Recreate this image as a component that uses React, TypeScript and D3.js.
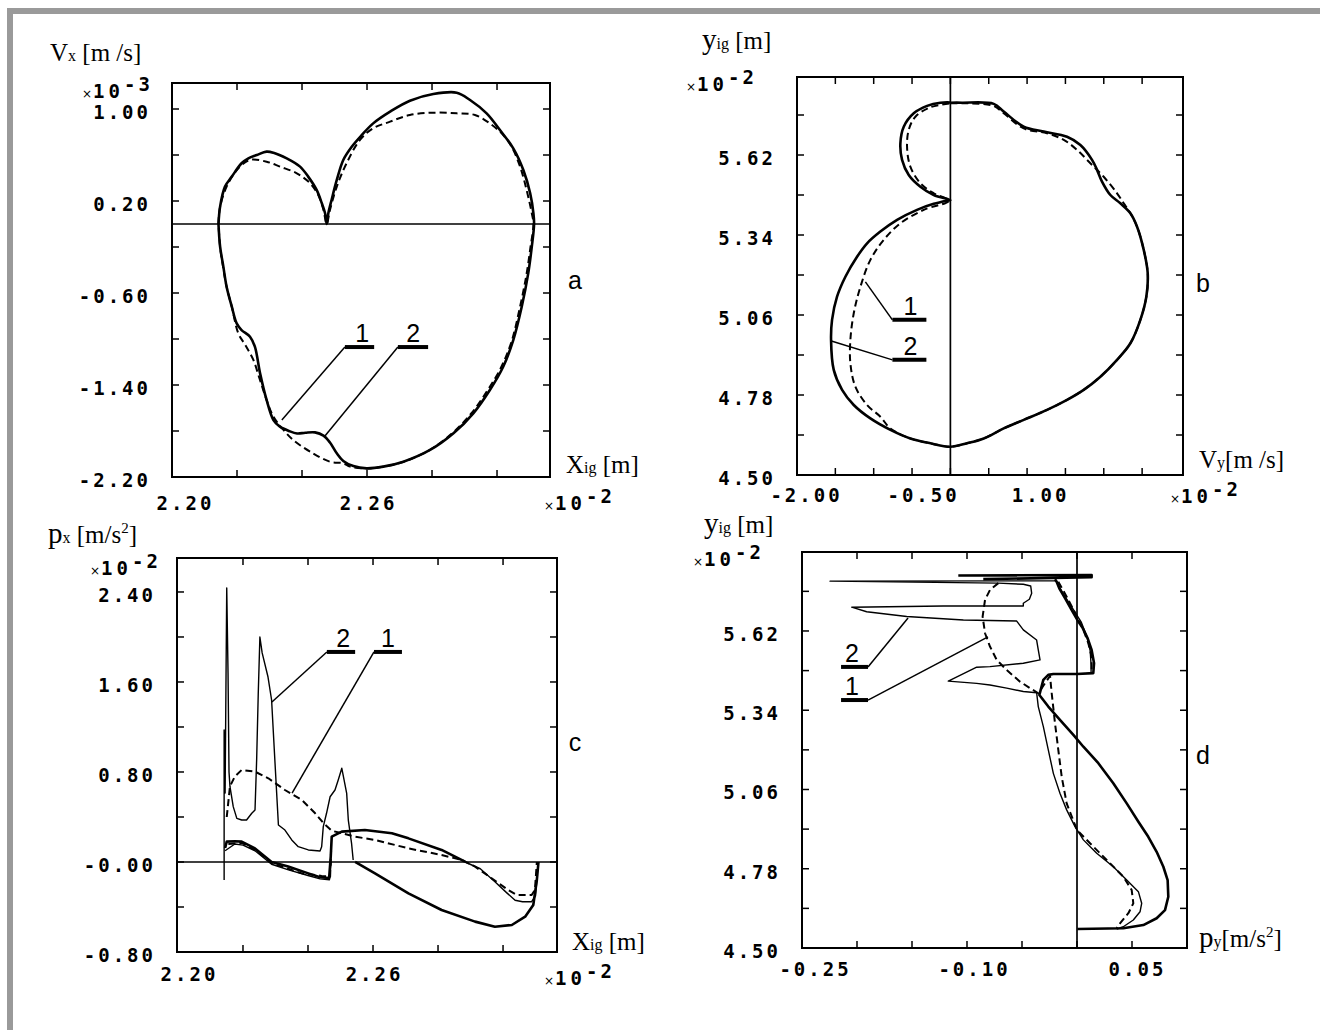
import React from "react";
import * as d3 from "d3";

type Pt = [number, number];

// ===================== Panel a : Vx [1e-3 m/s] vs Xig [1e-2 m] =====================
const aSolid: Pt[] = [
  [2.2143, 0.0], [2.2148, 0.151], [2.2163, 0.325], [2.2184, 0.412], [2.2214, 0.528], [2.2235, 0.571],
  [2.2261, 0.6], [2.2291, 0.629], [2.2312, 0.62], [2.2353, 0.571], [2.2394, 0.499], [2.2419, 0.412],
  [2.2445, 0.296], [2.2461, 0.18], [2.2471, 0.093], [2.2476, 0.0],
  [2.2481, 0.093], [2.2491, 0.209], [2.2507, 0.383], [2.2527, 0.557], [2.2553, 0.672], [2.2584, 0.774],
  [2.2619, 0.875], [2.2671, 0.977], [2.2732, 1.072], [2.2804, 1.13], [2.2876, 1.142], [2.2917, 1.078],
  [2.2968, 0.962], [2.3009, 0.817], [2.305, 0.658], [2.3081, 0.47], [2.3102, 0.267], [2.3112, 0.093], [2.3114, 0.0],
  [2.3107, -0.197], [2.3096, -0.429], [2.3076, -0.719], [2.305, -1.009], [2.3019, -1.241], [2.2978, -1.443],
  [2.2927, -1.646], [2.2866, -1.82], [2.2794, -1.965], [2.2712, -2.067], [2.265, -2.11], [2.2599, -2.125],
  [2.2558, -2.105], [2.2527, -2.06], [2.2507, -1.994], [2.2486, -1.9], [2.2466, -1.84], [2.244, -1.812],
  [2.241, -1.815], [2.2385, -1.822], [2.236, -1.8], [2.2332, -1.762], [2.2312, -1.704], [2.2291, -1.53],
  [2.2271, -1.299], [2.2255, -1.067], [2.224, -0.98], [2.2214, -0.922], [2.2199, -0.864], [2.2184, -0.719],
  [2.2168, -0.545], [2.2158, -0.371], [2.2148, -0.197], [2.2143, 0.0],
];
const aDashed: Pt[] = [
  [2.2143, 0.0], [2.2148, 0.151], [2.2173, 0.354], [2.2209, 0.499], [2.224, 0.557], [2.2291, 0.542],
  [2.2332, 0.499], [2.2384, 0.441], [2.2425, 0.354], [2.245, 0.252], [2.2466, 0.122], [2.2476, 0.0],
  [2.2486, 0.122], [2.2507, 0.325], [2.2537, 0.528], [2.2578, 0.73], [2.2619, 0.832], [2.2671, 0.89],
  [2.2732, 0.948], [2.2804, 0.968], [2.2876, 0.962], [2.2932, 0.948], [2.2978, 0.875], [2.3019, 0.774],
  [2.3045, 0.672], [2.3071, 0.499], [2.3091, 0.296], [2.3107, 0.093], [2.3112, 0.0],
  [2.3103, -0.2], [2.309, -0.45], [2.307, -0.73], [2.3045, -1.02], [2.3012, -1.25], [2.297, -1.45],
  [2.292, -1.65], [2.286, -1.825], [2.279, -1.97], [2.271, -2.07], [2.265, -2.11], [2.2599, -2.125],
  [2.2548, -2.11], [2.2527, -2.081], [2.2486, -2.067], [2.2425, -1.98], [2.2373, -1.878], [2.2343, -1.791],
  [2.2312, -1.675], [2.2291, -1.53], [2.227, -1.35], [2.225, -1.18], [2.2225, -1.05], [2.2204, -0.951],
  [2.2184, -0.719], [2.2168, -0.545], [2.2157, -0.371], [2.2148, -0.197], [2.2143, 0.0],
];
const aXTicks = [2.22, 2.24, 2.26, 2.28, 2.3];
const aYTicks = [-1.8, -1.4, -1.0, -0.6, -0.2, 0.2, 0.6, 1.0];
const aXLabelVals = [2.2, 2.26];
const aXLabelText = ["2.20", "2.26"];
const aYLabelVals = [1.0, 0.2, -0.6, -1.4, -2.2];
const aYLabelText = ["1.00", "0.20", "-0.60", "-1.40", "-2.20"];

// ===================== Panel b : yig [1e-2 m] vs Vy [1e-2 m/s] =====================
const bSolid: Pt[] = [
  [0, 5.803], [0.152, 5.803], [0.565, 5.799], [0.695, 5.772], [0.956, 5.719], [1.217, 5.702], [1.521, 5.684],
  [1.695, 5.655], [1.847, 5.603], [1.912, 5.568], [1.977, 5.527], [2.086, 5.48], [2.216, 5.451], [2.347, 5.416],
  [2.434, 5.369], [2.521, 5.288], [2.573, 5.206], [2.555, 5.124], [2.477, 5.043], [2.347, 4.961], [2.173, 4.903],
  [1.956, 4.844], [1.738, 4.798], [1.521, 4.763], [1.26, 4.728], [0.956, 4.693], [0.695, 4.663], [0.435, 4.628],
  [0.217, 4.611], [0, 4.599], [-0.261, 4.611], [-0.522, 4.628], [-0.782, 4.658], [-1.043, 4.698], [-1.26, 4.745],
  [-1.412, 4.798], [-1.521, 4.868], [-1.556, 4.973], [-1.543, 5.043], [-1.478, 5.124], [-1.369, 5.194],
  [-1.217, 5.264], [-1.086, 5.311], [-0.913, 5.352], [-0.695, 5.393], [-0.435, 5.428], [-0.217, 5.449],
  [-0.043, 5.46], [0, 5.462], [-0.217, 5.48], [-0.391, 5.509], [-0.543, 5.55], [-0.63, 5.603], [-0.652, 5.661],
  [-0.608, 5.719], [-0.478, 5.766], [-0.304, 5.792], [-0.13, 5.803], [0, 5.804],
];
const bDashed: Pt[] = [
  [0, 5.801], [0.217, 5.801], [0.565, 5.792], [0.695, 5.766], [0.956, 5.713], [1.26, 5.696], [1.478, 5.673],
  [1.651, 5.638], [1.825, 5.591], [1.999, 5.544], [2.173, 5.486], [2.26, 5.451], [2.347, 5.416], [2.434, 5.369],
  [2.521, 5.288], [2.573, 5.206], [2.555, 5.124], [2.477, 5.043], [2.347, 4.961], [2.173, 4.903], [1.956, 4.844],
  [1.738, 4.798], [1.521, 4.763], [1.26, 4.728], [0.956, 4.693], [0.695, 4.663], [0.435, 4.628], [0.217, 4.611],
  [0, 4.599], [-0.261, 4.611], [-0.522, 4.628], [-0.782, 4.663], [-0.913, 4.704], [-1.086, 4.745],
  [-1.239, 4.809], [-1.304, 4.891], [-1.304, 4.973], [-1.26, 5.066], [-1.173, 5.159], [-1.043, 5.253],
  [-0.869, 5.323], [-0.652, 5.381], [-0.348, 5.428], [-0.022, 5.46], [-0.217, 5.486], [-0.391, 5.521],
  [-0.522, 5.579], [-0.565, 5.649], [-0.543, 5.708], [-0.456, 5.754], [-0.261, 5.787], [0, 5.801],
];
const bXTicks = [-1.5, -1.0, -0.5, 0, 0.5, 1.0, 1.5, 2.0, 2.5];
const bYTicks = [4.64, 4.78, 4.92, 5.06, 5.2, 5.34, 5.48, 5.62, 5.76];
const bXLabelVals = [-2.0, -0.5, 1.0];
const bXLabelText = ["-2.00", "-0.50", "1.00"];
const bYLabelVals = [5.62, 5.34, 5.06, 4.78, 4.5];
const bYLabelText = ["5.62", "5.34", "5.06", "4.78", "4.50"];

// ===================== Panel c : px [1e-2 m/s2] vs Xig [1e-2 m] =====================
const cThin: Pt[] = [
  [2.2142, -0.16], [2.2142, 1.173], [2.2145, 0.613], [2.215, 2.436], [2.2154, 1.68], [2.2157, 0.8], [2.216, 0.669],
  [2.217, 0.492], [2.2181, 0.388], [2.2196, 0.373], [2.2211, 0.373], [2.2227, 0.433], [2.2237, 0.462],
  [2.2242, 0.907], [2.2247, 1.502], [2.2252, 2.0], [2.2259, 1.858], [2.2277, 1.644], [2.2288, 1.44],
  [2.2298, 0.907], [2.2309, 0.329], [2.2329, 0.284], [2.235, 0.196], [2.237, 0.136], [2.2401, 0.107],
  [2.2437, 0.098], [2.2442, 0.136], [2.2447, 0.314], [2.2457, 0.433], [2.2468, 0.58], [2.2483, 0.64],
  [2.2493, 0.729], [2.2504, 0.833], [2.2509, 0.758], [2.2519, 0.61], [2.2524, 0.373], [2.2534, 0.166], [2.2539, 0.018],
];
const cThinRight: Pt[] = [
  [2.2883, 0.0], [2.293, -0.06], [2.2975, -0.175], [2.301, -0.27], [2.3037, -0.34], [2.306, -0.353],
  [2.3088, -0.353], [2.31, -0.3], [2.3104, -0.16], [2.3108, 0.0],
];
const cThinLower: Pt[] = [
  [2.2145, 0.1], [2.2175, 0.16], [2.22, 0.15], [2.2237, 0.1], [2.2288, -0.02], [2.234, -0.07], [2.24, -0.12],
  [2.2437, -0.15], [2.2466, -0.158], [2.2471, 0.0],
];
const cDashed: Pt[] = [
  [2.215, 0.4], [2.216, 0.673], [2.2175, 0.76], [2.2196, 0.818], [2.2237, 0.803], [2.2278, 0.744], [2.2329, 0.64],
  [2.2381, 0.551], [2.2422, 0.433], [2.2448, 0.344], [2.2473, 0.278], [2.2504, 0.255], [2.2545, 0.225],
  [2.2606, 0.196], [2.2709, 0.121], [2.2811, 0.062], [2.2873, 0.018], [2.2914, -0.041], [2.2965, -0.145],
  [2.3016, -0.249], [2.3042, -0.293], [2.3088, -0.293], [2.3098, -0.249], [2.3104, 0.0],
];
const cDashedLower: Pt[] = [
  [2.2155, 0.16], [2.2196, 0.17], [2.2237, 0.11], [2.2288, -0.01], [2.2339, -0.06], [2.2381, -0.101],
  [2.2442, -0.124], [2.2468, -0.13], [2.2471, 0.1],
];
const cThickLoop: Pt[] = [
  [2.2145, 0.124], [2.215, 0.181], [2.2175, 0.185], [2.2196, 0.181], [2.2237, 0.121], [2.2288, 0.0],
  [2.2339, -0.041], [2.2401, -0.101], [2.2437, -0.135], [2.2465, -0.142], [2.247, 0.05], [2.2473, 0.225],
  [2.2504, 0.27], [2.2575, 0.284], [2.2658, 0.255], [2.2709, 0.21], [2.2811, 0.107], [2.2883, 0.003],
];
const cThickLobe: Pt[] = [
  [2.2545, 0.0], [2.2606, -0.101], [2.2709, -0.279], [2.2811, -0.427], [2.2914, -0.53], [2.2975, -0.575],
  [2.3027, -0.56], [2.3068, -0.486], [2.3093, -0.382], [2.3104, -0.16], [2.3109, 0.0],
];
const cXTicks = [2.22, 2.24, 2.26, 2.28, 2.3];
const cYTicks = [-0.4, 0, 0.4, 0.8, 1.2, 1.6, 2.0, 2.4];
const cXLabelVals = [2.2, 2.26];
const cXLabelText = ["2.20", "2.26"];
const cYLabelVals = [2.4, 1.6, 0.8, 0, -0.8];
const cYLabelText = ["2.40", "1.60", "0.80", "-0.00", "-0.80"];

// ===================== Panel d : yig [1e-2 m] vs py [m/s2] =====================
const dThick: Pt[] = [
  [0.0003, 4.567], [0.0421, 4.57], [0.0603, 4.581], [0.0724, 4.605], [0.08, 4.634], [0.083, 4.681],
  [0.0824, 4.74], [0.0785, 4.787], [0.0724, 4.84], [0.0648, 4.893], [0.0558, 4.946], [0.0452, 5.011],
  [0.033, 5.082], [0.0194, 5.153], [0.0058, 5.211], [-0.0033, 5.253], [-0.0155, 5.306], [-0.0261, 5.353],
  [-0.0342, 5.394], [-0.0306, 5.447], [-0.0261, 5.465], [-0.0215, 5.468], [0, 5.468], [0.0148, 5.471],
  [0.0155, 5.506], [0.0133, 5.553], [0.0097, 5.594], [0.0052, 5.63], [0.0003, 5.659], [-0.0048, 5.694],
  [-0.0109, 5.736], [-0.0161, 5.771], [-0.0185, 5.794], [-0.02, 5.803],
];
const dThickTop: Pt[] = [[-0.1079, 5.816], [0.0133, 5.818], [0.0133, 5.81], [-0.0852, 5.803]];
const dThin: Pt[] = [
  [-0.0185, 5.797], [-0.2245, 5.796], [-0.0715, 5.789], [-0.0488, 5.785], [-0.0421, 5.779], [-0.0412, 5.753],
  [-0.0433, 5.732], [-0.0488, 5.718], [-0.0488, 5.708], [-0.1215, 5.708], [-0.2048, 5.704], [-0.1912, 5.688],
  [-0.1548, 5.671], [-0.1033, 5.659], [-0.0548, 5.655], [-0.0488, 5.624], [-0.0367, 5.588], [-0.0352, 5.553],
  [-0.0336, 5.518], [-0.0488, 5.506], [-0.0791, 5.494], [-0.0912, 5.492], [-0.117, 5.443], [-0.0912, 5.435],
  [-0.0791, 5.429], [-0.0639, 5.418], [-0.0488, 5.406], [-0.0367, 5.402], [-0.0352, 5.353], [-0.0306, 5.282],
  [-0.0261, 5.2], [-0.0215, 5.117], [-0.0155, 5.047], [-0.0094, 4.988], [-0.0018, 4.929], [0.0058, 4.882],
  [0.0179, 4.835], [0.033, 4.787], [0.0452, 4.74], [0.0558, 4.699], [0.0588, 4.658], [0.0573, 4.628],
  [0.0512, 4.599], [0.0421, 4.575], [0.0361, 4.567],
];
const dThinRight: Pt[] = [
  [-0.0195, 5.8], [-0.013, 5.755], [-0.004, 5.7], [0.004, 5.65], [0.009, 5.6], [0.012, 5.55], [0.0128, 5.5], [0.0128, 5.47],
];
const dDashed: Pt[] = [
  [-0.0715, 5.789], [-0.0791, 5.765], [-0.0836, 5.73], [-0.0858, 5.671], [-0.0836, 5.612], [-0.0791, 5.565],
  [-0.073, 5.518], [-0.0639, 5.482], [-0.0518, 5.441], [-0.0427, 5.418], [-0.0352, 5.4], [-0.03, 5.43],
  [-0.0245, 5.461], [-0.023, 5.4], [-0.02, 5.294], [-0.017, 5.2], [-0.0139, 5.105], [-0.0094, 5.011],
  [0, 4.917], [0.0118, 4.87], [0.027, 4.811], [0.0421, 4.752], [0.0497, 4.705], [0.0512, 4.658],
  [0.0467, 4.623], [0.0391, 4.587], [0.0361, 4.57],
];
const dDashedRight: Pt[] = [
  [-0.017, 5.794], [-0.0094, 5.741], [0, 5.671], [0.0058, 5.624], [0.0103, 5.577], [0.0133, 5.529], [0.0133, 5.476],
];
const dXTicks = [-0.2, -0.15, -0.1, -0.05, 0, 0.05];
const dYTicks = [4.64, 4.78, 4.92, 5.06, 5.2, 5.34, 5.48, 5.62, 5.76];
const dXLabelVals = [-0.25, -0.1, 0.05];
const dXLabelText = ["-0.25", "-0.10", "0.05"];
const dYLabelVals = [5.62, 5.34, 5.06, 4.78, 4.5];
const dYLabelText = ["5.62", "5.34", "5.06", "4.78", "4.50"];

// ===================== rendering =====================
const MONO = "'DejaVu Sans Mono', monospace";
const SERIF = "'Liberation Serif', 'Times New Roman', serif";
const SANS = "'Liberation Sans', Arial, sans-serif";
const TICK_FS = 19;
const TICK_LS = 3;

type Kind = "thick" | "thin" | "dashed";
interface Series { data: Pt[]; kind: Kind; }
interface Callout { text: string; textX: number; barX: [number, number]; barY: number; side: "left" | "right"; to: Pt; }
interface PanelSpec {
  id: string;
  x0: number; x1: number; y0: number; y1: number;
  xDomain: [number, number]; yDomain: [number, number];
  xTicks: number[]; yTicks: number[];
  xLabelVals: number[]; xLabelText: string[]; xLabelDx: number[]; xLabelY: number;
  yLabelVals: number[]; yLabelText: string[];
  zero: "h" | "v";
  smooth: boolean;
  series: Series[];
  callouts: Callout[];
}

const STYLE: Record<Kind, { w: number; dash?: string }> = {
  thick: { w: 2.6 },
  thin: { w: 1.4 },
  dashed: { w: 2.0, dash: "7 4" },
};

function Panel({ p }: { p: PanelSpec }) {
  const x = d3.scaleLinear().domain(p.xDomain).range([p.x0, p.x1]);
  const y = d3.scaleLinear().domain(p.yDomain).range([p.y1, p.y0]);
  const line = d3
    .line<Pt>()
    .x((d) => x(d[0]))
    .y((d) => y(d[1]))
    .curve(p.smooth ? d3.curveCatmullRom.alpha(0.5) : d3.curveLinear);
  const T = 7;
  const order: Kind[] = ["thin", "dashed", "thick"];
  return (
    <g>
      <defs>
        <clipPath id={"clip-" + p.id}>
          <rect x={p.x0} y={p.y0} width={p.x1 - p.x0} height={p.y1 - p.y0} />
        </clipPath>
      </defs>
      <g clipPath={`url(#clip-${p.id})`}>
        {p.zero === "h" ? (
          <line x1={p.x0} x2={p.x1} y1={y(0)} y2={y(0)} stroke="#000" strokeWidth={1.7} />
        ) : (
          <line x1={x(0)} x2={x(0)} y1={p.y0} y2={p.y1} stroke="#000" strokeWidth={1.7} />
        )}
        {order.map((k) =>
          p.series
            .filter((s) => s.kind === k)
            .map((s, i) => (
              <path
                key={k + i}
                d={line(s.data) || ""}
                fill="none"
                stroke="#000"
                strokeWidth={STYLE[k].w}
                strokeDasharray={STYLE[k].dash}
                strokeLinejoin="round"
                strokeLinecap="butt"
              />
            ))
        )}
      </g>
      <rect x={p.x0} y={p.y0} width={p.x1 - p.x0} height={p.y1 - p.y0} fill="none" stroke="#000" strokeWidth={2} />
      {p.xTicks.map((t) => (
        <g key={"xt" + t}>
          <line x1={x(t)} x2={x(t)} y1={p.y1} y2={p.y1 - T} stroke="#000" strokeWidth={1.5} />
          <line x1={x(t)} x2={x(t)} y1={p.y0} y2={p.y0 + T} stroke="#000" strokeWidth={1.5} />
        </g>
      ))}
      {p.yTicks.map((t) => (
        <g key={"yt" + t}>
          <line x1={p.x0} x2={p.x0 + T} y1={y(t)} y2={y(t)} stroke="#000" strokeWidth={1.5} />
          <line x1={p.x1} x2={p.x1 - T} y1={y(t)} y2={y(t)} stroke="#000" strokeWidth={1.5} />
        </g>
      ))}
      {p.yLabelVals.map((v, i) => (
        <text key={"yl" + i} x={p.x0 - 21} y={y(v) + 10} textAnchor="end" fontFamily={MONO} fontWeight="bold"
          fontSize={TICK_FS} letterSpacing={TICK_LS} fill="#000">
          {p.yLabelText[i]}
        </text>
      ))}
      {p.xLabelVals.map((v, i) => (
        <text key={"xl" + i} x={x(v) + p.xLabelDx[i] + TICK_LS / 2} y={p.xLabelY} textAnchor="middle" fontFamily={MONO}
          fontWeight="bold" fontSize={TICK_FS} letterSpacing={TICK_LS} fill="#000">
          {p.xLabelText[i]}
        </text>
      ))}
      {p.callouts.map((c, i) => {
        const bx0 = x(c.barX[0]);
        const bx1 = x(c.barX[1]);
        const by = y(c.barY);
        const fx = c.side === "left" ? bx0 : bx1;
        return (
          <g key={"co" + i}>
            <line x1={fx} y1={by} x2={x(c.to[0])} y2={y(c.to[1])} stroke="#000" strokeWidth={1.5} />
            <line x1={bx0} x2={bx1} y1={by} y2={by} stroke="#000" strokeWidth={4} />
            <text x={x(c.textX)} y={by - 5} textAnchor="middle" fontFamily={SANS} fontSize={25} fill="#000">
              {c.text}
            </text>
          </g>
        );
      })}
    </g>
  );
}

function Mult({ x, y, exp }: { x: number; y: number; exp: string }) {
  return (
    <text x={x} y={y} fontFamily={MONO} fontWeight="bold" fontSize={19} fill="#000">
      <tspan fontFamily="'DejaVu Sans', sans-serif" fontWeight="normal" fontSize={12}>×</tspan>
      <tspan dx={1} letterSpacing={4}>10</tspan>
      <tspan dx={0} dy={-7} letterSpacing={3}>{"-" + exp}</tspan>
    </text>
  );
}

interface Part { t: string; s: number; dy?: number; }
function Title({ x, y, parts }: { x: number; y: number; parts: Part[] }) {
  return (
    <text x={x} y={y} fontFamily={SERIF} fill="#000">
      {parts.map((q, i) => (
        <tspan key={i} fontSize={q.s} dy={q.dy || 0}>{q.t}</tspan>
      ))}
    </text>
  );
}

const panelA: PanelSpec = {
  id: "a", x0: 172, x1: 550, y0: 83, y1: 477,
  xDomain: [2.2, 2.3163], yDomain: [-2.2, 1.2261],
  xTicks: aXTicks, yTicks: aYTicks,
  xLabelVals: aXLabelVals, xLabelText: aXLabelText, xLabelDx: [12, 0], xLabelY: 510,
  yLabelVals: aYLabelVals, yLabelText: aYLabelText,
  zero: "h", smooth: true,
  series: [{ data: aDashed, kind: "dashed" }, { data: aSolid, kind: "thick" }],
  callouts: [
    { text: "1", textX: 2.2585, barX: [2.2532, 2.2622], barY: -1.07, side: "left", to: [2.2338, -1.704] },
    { text: "2", textX: 2.2742, barX: [2.2695, 2.2788], barY: -1.07, side: "left", to: [2.2468, -1.852] },
  ],
};

const panelB: PanelSpec = {
  id: "b", x0: 797, x1: 1183, y0: 77, y1: 475,
  xDomain: [-2.0, 3.033], yDomain: [4.5, 5.893],
  xTicks: bXTicks, yTicks: bYTicks,
  xLabelVals: bXLabelVals, xLabelText: bXLabelText, xLabelDx: [8, 10, 12], xLabelY: 502,
  yLabelVals: bYLabelVals, yLabelText: bYLabelText,
  zero: "v", smooth: true,
  series: [{ data: bDashed, kind: "dashed" }, { data: bSolid, kind: "thick" }],
  callouts: [
    { text: "1", textX: -0.522, barX: [-0.756, -0.313], barY: 5.043, side: "left", to: [-1.108, 5.176] },
    { text: "2", textX: -0.522, barX: [-0.756, -0.313], barY: 4.903, side: "left", to: [-1.552, 4.969] },
  ],
};

const panelC: PanelSpec = {
  id: "c", x0: 177, x1: 557, y0: 558, y1: 952,
  xDomain: [2.1997, 2.3166], yDomain: [-0.8, 2.702],
  xTicks: cXTicks, yTicks: cYTicks,
  xLabelVals: cXLabelVals, xLabelText: cXLabelText, xLabelDx: [10, 0], xLabelY: 981,
  yLabelVals: cYLabelVals, yLabelText: cYLabelText,
  zero: "h", smooth: false,
  series: [
    { data: cThin, kind: "thin" },
    { data: cThinRight, kind: "thin" },
    { data: cThinLower, kind: "thin" },
    { data: cDashed, kind: "dashed" },
    { data: cDashedLower, kind: "dashed" },
    { data: cThickLoop, kind: "thick" },
    { data: cThickLobe, kind: "thick" },
  ],
  callouts: [
    { text: "2", textX: 2.2508, barX: [2.2458, 2.2545], barY: 1.867, side: "left", to: [2.2289, 1.422] },
    { text: "1", textX: 2.2646, barX: [2.2603, 2.2689], barY: 1.867, side: "left", to: [2.2351, 0.613] },
  ],
};

const panelD: PanelSpec = {
  id: "d", x0: 802, x1: 1187, y0: 552, y1: 948,
  xDomain: [-0.25, 0.1], yDomain: [4.5, 5.899],
  xTicks: dXTicks, yTicks: dYTicks,
  xLabelVals: dXLabelVals, xLabelText: dXLabelText, xLabelDx: [12, 6, 4], xLabelY: 976,
  yLabelVals: dYLabelVals, yLabelText: dYLabelText,
  zero: "v", smooth: false,
  series: [
    { data: dThin, kind: "thin" },
    { data: dThinRight, kind: "thin" },
    { data: dDashed, kind: "dashed" },
    { data: dDashedRight, kind: "dashed" },
    { data: dThick, kind: "thick" },
    { data: dThickTop, kind: "thick" },
  ],
  callouts: [
    { text: "2", textX: -0.2045, barX: [-0.2145, -0.19], barY: 5.493, side: "right", to: [-0.1536, 5.666] },
    { text: "1", textX: -0.2045, barX: [-0.2145, -0.19], barY: 5.376, side: "right", to: [-0.0809, 5.599] },
  ],
};

export default function App() {
  return (
    <svg width={1320} height={1030} viewBox="0 0 1320 1030"
      style={{ position: "absolute", left: 0, top: 0, background: "#fff", display: "block" }}>
      <rect x={0} y={0} width={1320} height={1030} fill="#fff" />
      {/* outer grey frame */}
      <rect x={7} y={8} width={1313} height={6} fill="#9a9a9a" />
      <rect x={7} y={8} width={6} height={1022} fill="#9a9a9a" />

      <Panel p={panelA} />
      <Panel p={panelB} />
      <Panel p={panelC} />
      <Panel p={panelD} />

      {/* multipliers */}
      <Mult x={82} y={98} exp="3" />
      <Mult x={544} y={510} exp="2" />
      <Mult x={686} y={91} exp="2" />
      <Mult x={1170} y={503} exp="2" />
      <Mult x={90} y={575} exp="2" />
      <Mult x={544} y={985} exp="2" />
      <Mult x={693} y={566} exp="2" />

      {/* axis titles */}
      <Title x={50} y={61} parts={[{ t: "V", s: 25 }, { t: "x", s: 16 }, { t: " [m /s]", s: 25 }]} />
      <Title x={566} y={473} parts={[{ t: "X", s: 25 }, { t: "ig", s: 16 }, { t: " [m]", s: 25 }]} />
      <Title x={702} y={49} parts={[{ t: "y", s: 29 }, { t: "ig", s: 16 }, { t: " [m]", s: 25 }]} />
      <Title x={1199} y={468} parts={[{ t: "V", s: 25 }, { t: "y", s: 16 }, { t: "[m /s]", s: 25 }]} />
      <Title x={48} y={543} parts={[{ t: "p", s: 29 }, { t: "x", s: 16 }, { t: " [m/s", s: 25 }, { t: "2", s: 15, dy: -10 }, { t: "]", s: 25, dy: 10 }]} />
      <Title x={572} y={950} parts={[{ t: "X", s: 25 }, { t: "ig", s: 16 }, { t: " [m]", s: 25 }]} />
      <Title x={704} y={533} parts={[{ t: "y", s: 29 }, { t: "ig", s: 16 }, { t: " [m]", s: 25 }]} />
      <Title x={1199} y={947} parts={[{ t: "p", s: 29 }, { t: "y", s: 16 }, { t: "[m/s", s: 25 }, { t: "2", s: 15, dy: -10 }, { t: "]", s: 25, dy: 10 }]} />

      {/* panel letters */}
      <text x={575} y={289} textAnchor="middle" fontFamily={SANS} fontSize={25} fill="#000">a</text>
      <text x={1203} y={292} textAnchor="middle" fontFamily={SANS} fontSize={25} fill="#000">b</text>
      <text x={575} y={751} textAnchor="middle" fontFamily={SANS} fontSize={25} fill="#000">c</text>
      <text x={1203} y={764} textAnchor="middle" fontFamily={SANS} fontSize={25} fill="#000">d</text>
    </svg>
  );
}
